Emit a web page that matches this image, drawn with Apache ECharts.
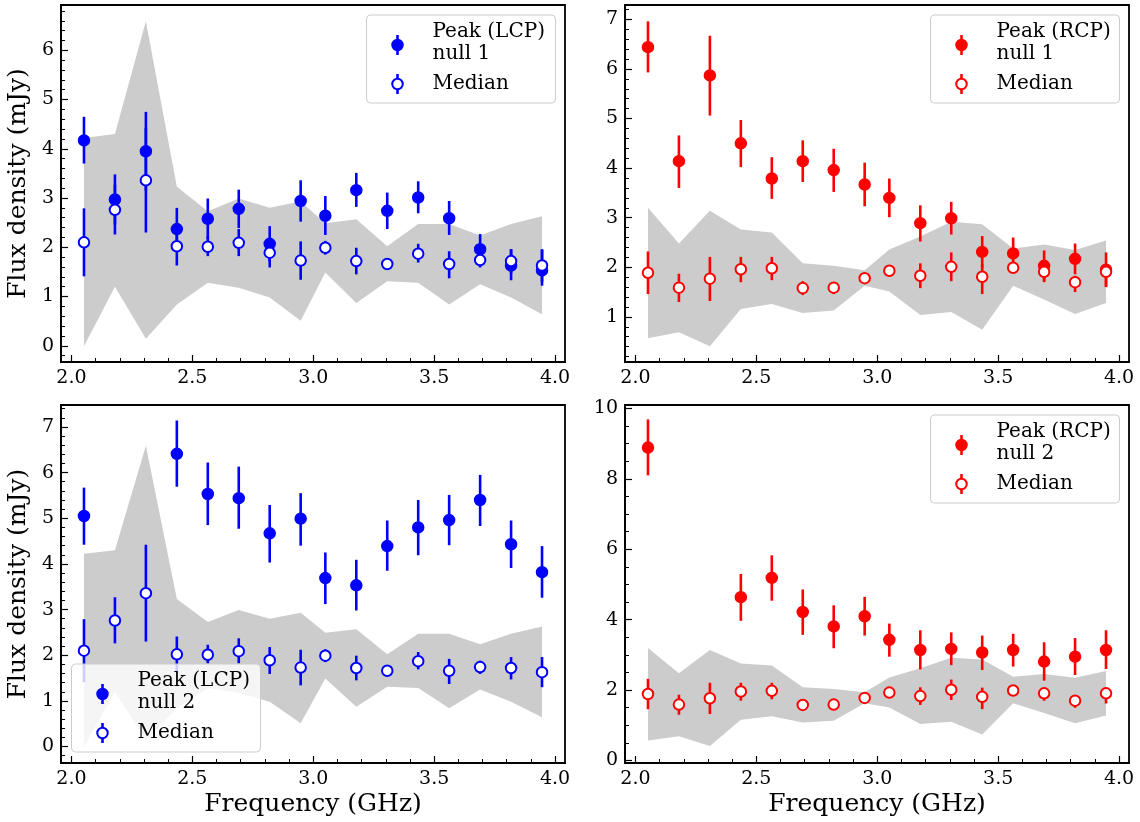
<!DOCTYPE html>
<html><head><meta charset="utf-8">
<script src="https://cdn.jsdelivr.net/npm/echarts@6/dist/echarts.min.js"></script>
<style>html,body{margin:0;padding:0;background:#fff}#c{width:1140px;height:822px}</style>
</head><body><div id="c"></div>
<script>
// ---------------- DATA ----------------
const FREQ = [2.052, 2.180, 2.308, 2.436, 2.564, 2.692, 2.820, 2.948, 3.050, 3.178, 3.306, 3.434, 3.562, 3.690, 3.818, 3.946];

// LCP off-pulse band (grey)
const LCP_BAND_HI = [4.22, 4.30, 6.59, 3.23, 2.73, 2.99, 2.80, 2.93, 2.49, 2.57, 2.02, 2.47, 2.47, 2.24, 2.47, 2.63];
const LCP_BAND_LO = [-0.01, 1.20, 0.14, 0.84, 1.28, 1.18, 0.98, 0.51, 1.49, 0.87, 1.31, 1.28, 0.84, 1.25, 0.98, 0.64];
// LCP median
const LCP_MED    = [2.10, 2.76, 3.36, 2.02, 2.01, 2.09, 1.89, 1.73, 1.99, 1.72, 1.66, 1.87, 1.66, 1.74, 1.72, 1.63];
const LCP_MED_HI = [2.79, 3.27, 4.42, 2.41, 2.23, 2.37, 2.18, 2.12, 2.13, 1.99, 1.72, 2.07, 1.92, 1.88, 1.96, 1.96];
const LCP_MED_LO = [1.41, 2.26, 2.30, 1.63, 1.82, 1.82, 1.59, 1.34, 1.85, 1.45, 1.60, 1.69, 1.37, 1.59, 1.47, 1.30];
// LCP peak null 1
const LCP1_PEAK = [4.17, 2.97, 3.95, 2.37, 2.58, 2.78, 2.07, 2.94, 2.64, 3.16, 2.74, 3.01, 2.59, 1.96, 1.63, 1.53];
const LCP1_HI   = [4.65, 3.48, 4.75, 2.80, 2.99, 3.17, 2.43, 3.36, 3.04, 3.51, 3.11, 3.34, 2.94, 2.27, 1.96, 1.95];
const LCP1_LO   = [3.70, 2.46, 3.15, 1.94, 2.17, 2.39, 1.71, 2.52, 2.25, 2.82, 2.37, 2.69, 2.25, 1.65, 1.33, 1.22];
// LCP peak null 2
const LCP2_PEAK = [5.05, null, null, 6.41, 5.53, 5.44, 4.67, 4.99, 3.69, 3.53, 4.39, 4.80, 4.96, 5.40, 4.43, 3.82];
const LCP2_HI   = [5.67, null, null, 7.14, 6.22, 6.13, 5.29, 5.55, 4.25, 4.09, 4.95, 5.40, 5.51, 5.95, 4.95, 4.39];
const LCP2_LO   = [4.42, null, null, 5.69, 4.85, 4.77, 4.03, 4.40, 3.12, 2.98, 3.85, 4.19, 4.41, 4.83, 3.91, 3.26];

// RCP off-pulse band (grey)
const RCP_BAND_HI = [3.20, 2.48, 3.14, 2.76, 2.70, 2.08, 2.03, 1.94, 2.36, 2.62, 2.92, 2.87, 2.38, 2.46, 2.35, 2.54];
const RCP_BAND_LO = [0.57, 0.69, 0.41, 1.16, 1.26, 1.08, 1.13, 1.63, 1.51, 1.04, 1.10, 0.74, 1.63, 1.35, 1.06, 1.28];
// RCP median
const RCP_MED    = [1.89, 1.59, 1.77, 1.96, 1.98, 1.58, 1.59, 1.78, 1.93, 1.83, 2.01, 1.81, 1.99, 1.91, 1.70, 1.91];
const RCP_MED_HI = [2.32, 1.87, 2.21, 2.21, 2.21, 1.72, 1.70, 1.83, 2.03, 2.08, 2.30, 2.07, 2.09, 2.06, 1.83, 2.06];
const RCP_MED_LO = [1.46, 1.30, 1.32, 1.70, 1.74, 1.44, 1.46, 1.73, 1.83, 1.58, 1.72, 1.46, 1.89, 1.70, 1.50, 1.62];
// RCP peak null 1
const RCP1_PEAK = [6.44, 4.14, 5.87, 4.50, 3.79, 4.14, 3.96, 3.67, 3.40, 2.89, 2.99, 2.31, 2.28, 2.03, 2.17, 1.95];
const RCP1_HI   = [6.96, 4.66, 6.67, 4.97, 4.22, 4.56, 4.39, 4.11, 3.79, 3.25, 3.32, 2.63, 2.60, 2.34, 2.48, 2.30];
const RCP1_LO   = [5.93, 3.60, 5.06, 4.02, 3.38, 3.72, 3.52, 3.23, 3.01, 2.52, 2.66, 1.99, 1.96, 1.72, 1.86, 1.60];
// RCP peak null 2
const RCP2_PEAK = [8.89, null, null, 4.64, 5.19, 4.22, 3.81, 4.10, 3.43, 3.14, 3.17, 3.07, 3.14, 2.81, 2.95, 3.14];
const RCP2_HI   = [9.69, null, null, 5.30, 5.83, 4.86, 4.41, 4.65, 3.89, 3.70, 3.64, 3.55, 3.60, 3.36, 3.48, 3.70];
const RCP2_LO   = [8.10, null, null, 3.97, 4.54, 3.57, 3.19, 3.55, 2.95, 2.59, 2.71, 2.57, 2.67, 2.27, 2.43, 2.60];

// Tick labels
const X_TICKS = [2.0, 2.5, 3.0, 3.5, 4.0];
const Y_TICKS_TL = [0, 1, 2, 3, 4, 5, 6];
const Y_TICKS_TR = [1, 2, 3, 4, 5, 6, 7];
const Y_TICKS_BL = [0, 1, 2, 3, 4, 5, 6, 7];
const Y_TICKS_BR = [0, 2, 4, 6, 8, 10];

const LEGEND_TL = ['Peak (LCP)', 'null 1', 'Median'];
const LEGEND_TR = ['Peak (RCP)', 'null 1', 'Median'];
const LEGEND_BL = ['Peak (LCP)', 'null 2', 'Median'];
const LEGEND_BR = ['Peak (RCP)', 'null 2', 'Median'];
const X_TITLE = 'Frequency (GHz)';
const Y_TITLE = 'Flux density (mJy)';

// ---------------- HELPERS ----------------
function steps(a, b, s) { const out = []; const n = Math.round((b - a) / s); for (let i = 0; i <= n; i++) out.push(Math.round((a + i * s) * 1000) / 1000); return out; }
const X_MINOR = steps(2.0, 4.0, 0.1);

const FONT = 'DejaVu Serif';
const BLUE = '#0000ff', RED = '#ff0000', BAND = '#cccccc';

const panels = [
  { grid: {left: 61, top: 5, width: 504, height: 357}, xmin: 1.957, xmax: 4.041, ymin: -0.33, ymax: 6.92,
    yMajor: Y_TICKS_TL, yMinor: steps(-0.2, 6.8, 0.2), bandLo: LCP_BAND_LO, bandHi: LCP_BAND_HI, color: BLUE,
    peak: [LCP1_PEAK, LCP1_LO, LCP1_HI], med: [LCP_MED, LCP_MED_LO, LCP_MED_HI],
    yTitle: true, xTitle: false, legend: LEGEND_TL, lx: 366.5, ly: 15 },
  { grid: {left: 625, top: 5, width: 504, height: 357}, xmin: 1.957, xmax: 4.041, ymin: 0.09, ymax: 7.29,
    yMajor: Y_TICKS_TR, yMinor: steps(0.2, 7.2, 0.2), bandLo: RCP_BAND_LO, bandHi: RCP_BAND_HI, color: RED,
    peak: [RCP1_PEAK, RCP1_LO, RCP1_HI], med: [RCP_MED, RCP_MED_LO, RCP_MED_HI],
    yTitle: false, xTitle: false, legend: LEGEND_TR, lx: 930.5, ly: 15 },
  { grid: {left: 61, top: 405, width: 504, height: 358}, xmin: 1.957, xmax: 4.041, ymin: -0.36, ymax: 7.48,
    yMajor: Y_TICKS_BL, yMinor: steps(-0.2, 7.4, 0.2), bandLo: LCP_BAND_LO, bandHi: LCP_BAND_HI, color: BLUE,
    peak: [LCP2_PEAK, LCP2_LO, LCP2_HI], med: [LCP_MED, LCP_MED_LO, LCP_MED_HI],
    yTitle: true, xTitle: true, legend: LEGEND_BL, lx: 71.5, ly: 664 },
  { grid: {left: 625, top: 405, width: 504, height: 358}, xmin: 1.957, xmax: 4.041, ymin: -0.07, ymax: 10.1,
    yMajor: Y_TICKS_BR, yMinor: steps(0, 10, 0.5), bandLo: RCP_BAND_LO, bandHi: RCP_BAND_HI, color: RED,
    peak: [RCP2_PEAK, RCP2_LO, RCP2_HI], med: [RCP_MED, RCP_MED_LO, RCP_MED_HI],
    yTitle: false, xTitle: true, legend: LEGEND_BR, lx: 930.5, ly: 415 }
];

const grids = [], xAxes = [], yAxes = [], series = [], graphics = [];
const labelStyle = { fontFamily: FONT, fontSize: 19, color: '#000' };
const titleStyle = { fontFamily: FONT, fontSize: 25, color: '#000' };

function errRender(width) {
  return function (params, api) {
    const x = api.value(0), lo = api.value(1), hi = api.value(2);
    const p1 = api.coord([x, lo]), p2 = api.coord([x, hi]);
    return { type: 'line', shape: { x1: p1[0], y1: p1[1], x2: p2[0], y2: p2[1] },
             style: { stroke: api.visual('color'), lineWidth: width } };
  };
}
function rows(vals, lo, hi) {
  const out = [];
  for (let i = 0; i < FREQ.length; i++) if (vals[i] != null) out.push([FREQ[i], lo[i], hi[i], vals[i]]);
  return out;
}

panels.forEach((p, k) => {
  grids.push(Object.assign({ show: true, borderColor: '#000', borderWidth: 1.8, backgroundColor: 'transparent', containLabel: false }, p.grid));
  const xi = 2 * k, yi = 2 * k;
  // major x
  xAxes.push({ type: 'value', gridIndex: k, position: 'bottom', min: p.xmin, max: p.xmax,
    axisLine: { show: true, onZero: false, lineStyle: { color: '#000', width: 1.8 } },
    axisTick: { show: true, inside: true, length: 7, customValues: X_TICKS, lineStyle: { color: '#000', width: 1.2 } },
    axisLabel: { show: true, customValues: X_TICKS, margin: 7, formatter: v => v.toFixed(1), ...labelStyle },
    splitLine: { show: false },
    name: p.xTitle ? X_TITLE : '', nameLocation: 'middle', nameGap: 29, nameTextStyle: titleStyle });
  // minor x
  xAxes.push({ type: 'value', gridIndex: k, position: 'bottom', min: p.xmin, max: p.xmax,
    axisLine: { show: false, onZero: false },
    axisTick: { show: true, inside: true, length: 4, customValues: X_MINOR, lineStyle: { color: '#000', width: 1 } },
    axisLabel: { show: false }, splitLine: { show: false } });
  // major y
  yAxes.push({ type: 'value', gridIndex: k, position: 'left', min: p.ymin, max: p.ymax,
    axisLine: { show: true, onZero: false, lineStyle: { color: '#000', width: 1.8 } },
    axisTick: { show: true, inside: true, length: 7, customValues: p.yMajor, lineStyle: { color: '#000', width: 1.2 } },
    axisLabel: { show: true, customValues: p.yMajor, margin: 7, formatter: v => String(Math.round(v)), ...labelStyle },
    splitLine: { show: false },
    name: p.yTitle ? Y_TITLE : '', nameLocation: 'middle', nameGap: 30, nameTextStyle: titleStyle });
  // minor y
  yAxes.push({ type: 'value', gridIndex: k, position: 'left', min: p.ymin, max: p.ymax,
    axisLine: { show: false, onZero: false },
    axisTick: { show: true, inside: true, length: 4, customValues: p.yMinor, lineStyle: { color: '#000', width: 1 } },
    axisLabel: { show: false }, splitLine: { show: false } });

  // band polygon
  const bandLo = p.bandLo, bandHi = p.bandHi;
  series.push({ type: 'custom', xAxisIndex: xi, yAxisIndex: yi, silent: true, z: 1,
    data: FREQ.map((f, i) => [f, bandLo[i], bandHi[i]]),
    renderItem: function (params, api) {
      if (params.dataIndex !== 0) return null;
      const pts = [];
      for (let i = 0; i < FREQ.length; i++) pts.push(api.coord([FREQ[i], bandHi[i]]));
      for (let i = FREQ.length - 1; i >= 0; i--) pts.push(api.coord([FREQ[i], bandLo[i]]));
      return { type: 'polygon', shape: { points: pts }, style: { fill: BAND } };
    } });

  const peakRows = rows(p.peak[0], p.peak[1], p.peak[2]);
  const medRows = rows(p.med[0], p.med[1], p.med[2]);
  // peak error bars & markers
  series.push({ type: 'custom', xAxisIndex: xi, yAxisIndex: yi, silent: true, z: 3, itemStyle: { color: p.color },
    encode: { x: 0, y: [1, 2] }, data: peakRows, renderItem: errRender(2.6) });
  series.push({ type: 'scatter', xAxisIndex: xi, yAxisIndex: yi, silent: true, z: 4, symbol: 'circle', symbolSize: 11,
    itemStyle: { color: p.color, borderColor: p.color, borderWidth: 1.5, opacity: 1 },
    encode: { x: 0, y: 3 }, data: peakRows });
  // median error bars & markers
  series.push({ type: 'custom', xAxisIndex: xi, yAxisIndex: yi, silent: true, z: 5, itemStyle: { color: p.color },
    encode: { x: 0, y: [1, 2] }, data: medRows, renderItem: errRender(2.6) });
  series.push({ type: 'scatter', xAxisIndex: xi, yAxisIndex: yi, silent: true, z: 6, symbol: 'circle', symbolSize: 10.5,
    itemStyle: { color: '#ffffff', borderColor: p.color, borderWidth: 2, opacity: 1 },
    encode: { x: 0, y: 3 }, data: medRows });

  // legend box (graphic)
  const lx = p.lx, ly = p.ly;
  graphics.push({ type: 'rect', z: 100, shape: { x: lx, y: ly, width: 189, height: 88, r: 4 },
    style: { fill: 'rgba(255,255,255,0.8)', stroke: '#cccccc', lineWidth: 1 } });
  graphics.push({ type: 'line', z: 101, shape: { x1: lx + 31, y1: ly + 20, x2: lx + 31, y2: ly + 40 }, style: { stroke: p.color, lineWidth: 2.6 } });
  graphics.push({ type: 'circle', z: 102, shape: { cx: lx + 31, cy: ly + 30, r: 5.5 }, style: { fill: p.color, stroke: p.color, lineWidth: 1.5 } });
  graphics.push({ type: 'line', z: 101, shape: { x1: lx + 31, y1: ly + 59, x2: lx + 31, y2: ly + 79 }, style: { stroke: p.color, lineWidth: 2.6 } });
  graphics.push({ type: 'circle', z: 102, shape: { cx: lx + 31, cy: ly + 69, r: 5.25 }, style: { fill: '#ffffff', stroke: p.color, lineWidth: 2 } });
  const ts = (t, y) => ({ type: 'text', z: 102, x: lx + 66, y: y,
    style: { text: t, fontFamily: FONT, fontSize: 20, fill: '#000', textVerticalAlign: 'middle', verticalAlign: 'middle' } });
  graphics.push(ts(p.legend[0], ly + 17));
  graphics.push(ts(p.legend[1], ly + 39));
  graphics.push(ts(p.legend[2], ly + 69));
});

const chart = echarts.init(document.getElementById('c'), null, { renderer: 'canvas', width: 1140, height: 822 });
chart.setOption({
  animation: false,
  backgroundColor: '#ffffff',
  grid: grids, xAxis: xAxes, yAxis: yAxes, series: series,
  graphic: { elements: graphics }
});
</script>
</body></html>
